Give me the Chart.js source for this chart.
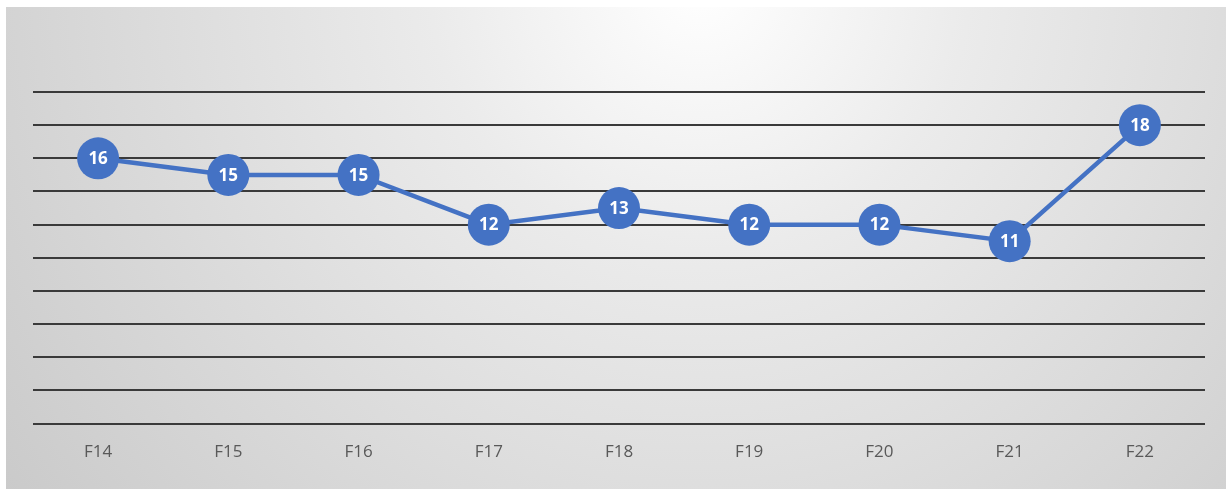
<!DOCTYPE html>
<html>
<head>
<meta charset="utf-8">
<script src="https://cdn.jsdelivr.net/npm/chart.js@4/dist/chart.umd.min.js"></script>
<style>
html,body{margin:0;padding:0;background:#fff;}
#wrap{width:1226px;height:489px;position:relative;}
</style>
</head>
<body>
<div id="wrap"><canvas id="c" width="1226" height="489"></canvas></div>
<script>
const categories = ["F14","F15","F16","F17","F18","F19","F20","F21","F22"];
const values = [16,15,15,12,13,12,12,11,18];
const yTicks = {min:0, max:20, step:2};

const bgPlugin = {
  id:'bg',
  beforeDraw(chart){
    const ctx = chart.ctx;
    const w = chart.width, h = chart.height;
    ctx.save();
    ctx.fillStyle = '#ffffff';
    ctx.fillRect(0,0,w,h);
    const g = ctx.createRadialGradient(700, -20, 0, 700, -20, 900);
    g.addColorStop(0, '#ffffff');
    g.addColorStop(0.3, '#ebebeb');
    g.addColorStop(1, '#c8c8c8');
    ctx.fillStyle = g;
    ctx.fillRect(6,7,w-6,h-7);
    ctx.restore();
  }
};

const labelPlugin = {
  id:'vlabels',
  afterDatasetsDraw(chart){
    const ctx = chart.ctx;
    const meta = chart.getDatasetMeta(0);
    ctx.save();
    ctx.fillStyle = '#ffffff';
    ctx.font = 'bold 17px "Open Sans", "Liberation Sans", sans-serif';
    ctx.textAlign = 'center';
    ctx.textBaseline = 'middle';
    meta.data.forEach((pt,i)=>{
      ctx.fillText(String(chart.data.datasets[0].data[i]), pt.x, pt.y+1);
    });
    ctx.restore();
  }
};

new Chart(document.getElementById('c'), {
  type:'line',
  data:{
    labels: categories,
    datasets:[{
      data: values,
      borderColor:'#4472C4',
      backgroundColor:'#4472C4',
      borderWidth:4.5,
      pointRadius:21,
      pointHoverRadius:21,
      pointBorderWidth:0,
      pointBackgroundColor:'#4472C4',
      tension:0,
      fill:false
    }]
  },
  options:{
    responsive:false,
    animation:false,
    events:[],
    layout:{padding:{left:33, right:21, top:92, bottom:9}},
    plugins:{legend:{display:false}, tooltip:{enabled:false}},
    scales:{
      x:{
        offset:true,
        grid:{display:false, drawTicks:false},
        border:{display:false},
        ticks:{color:'#595959', font:{size:17, family:'"Open Sans", "Liberation Sans", sans-serif'}, padding:18}
      },
      y:{
        min:yTicks.min, max:yTicks.max,
        ticks:{display:false, stepSize:yTicks.step},
        grid:{color:'#3a3a3a', lineWidth:2, drawTicks:false},
        border:{display:false}
      }
    }
  },
  plugins:[bgPlugin, labelPlugin]
});
</script>
</body>
</html>
